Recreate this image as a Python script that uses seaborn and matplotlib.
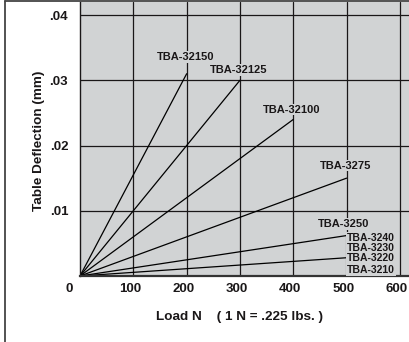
import pandas as pd
import seaborn as sns
import matplotlib.pyplot as plt
import matplotlib.transforms as mtransforms
from matplotlib.lines import Line2D

# lines: model name, load at end of line (N), deflection at end (mm)
models = ["TBA-32150", "TBA-32125", "TBA-32100", "TBA-3275", "TBA-3250", "TBA-3220"]
end_load = [200, 300, 400, 500, 500, 500]
end_defl = [0.031, 0.030, 0.024, 0.015, 0.0062, 0.0028]

# labels for the small models stacked to the right of the 500 N line
group_labels = ["TBA-3240", "TBA-3230", "TBA-3220", "TBA-3210"]
group_defl = [0.0059, 0.0043, 0.0027, 0.0009]

x_ticks = [100, 200, 300, 400, 500, 600]
y_ticks = [0.01, 0.02, 0.03, 0.04]
y_tick_labels = [".01", ".02", ".03", ".04"]

PANEL = "#d1d3d4"
INK = "#1a1718"


def main():
    sns.set_style("white")
    plt.rcParams["font.family"] = ["Liberation Sans", "DejaVu Sans"]
    plt.rcParams["font.weight"] = "bold"

    rows = []
    for m, x, y in zip(models, end_load, end_defl):
        rows.append({"model": m, "load": 0, "defl": 0.0})
        rows.append({"model": m, "load": x, "defl": y})
    df = pd.DataFrame(rows)

    fig = plt.figure(figsize=(4.09, 3.42), dpi=100)
    ax = fig.add_axes([80 / 409, 66 / 342, 329 / 409, 274 / 342])
    ax.set_facecolor(PANEL)

    sns.lineplot(data=df, x="load", y="defl", units="model", estimator=None,
                 color="black", lw=0.9, legend=False, ax=ax)

    ax.set_xlim(0, 617)
    ax.set_ylim(0, 0.042)
    ax.set_xticks(x_ticks)
    ax.set_xticklabels([str(t) for t in x_ticks])
    ax.set_yticks(y_ticks)
    ax.set_yticklabels(y_tick_labels)
    ax.tick_params(length=0, labelsize=9.5, colors=INK)
    ax.tick_params(axis="x", pad=5)
    ax.tick_params(axis="y", pad=8.5)
    ax.grid(True, color=INK, lw=0.9)
    ax.set_axisbelow(True)

    # x tick labels sit a little left of their grid lines in the original
    shift = mtransforms.ScaledTranslation(-3 / 100, 0, fig.dpi_scale_trans)
    for lab in ax.get_xticklabels():
        lab.set_transform(lab.get_transform() + shift)

    for s in ["top", "right"]:
        ax.spines[s].set_visible(False)
    ax.spines["left"].set_color(INK)
    ax.spines["left"].set_linewidth(1.0)
    ax.spines["bottom"].set_color("#333333")
    ax.spines["bottom"].set_linewidth(1.6)

    # origin label
    ax.annotate("0", xy=(0, 0), xytext=(-8, -5), textcoords="offset points",
                ha="center", va="top", fontsize=9.5, color=INK, fontweight="bold")

    box = dict(facecolor=PANEL, edgecolor="none", pad=0.6)
    label_dy = [12, 7.5, 7, 9]
    for m, x, y, dy in zip(models[:4], end_load, end_defl, label_dy):
        ax.annotate(m, xy=(x, y), xytext=(-1, dy), textcoords="offset points",
                    ha="center", va="center", fontsize=8, fontweight="bold",
                    color=INK, bbox=box, zorder=4)
    ax.annotate(models[4], xy=(end_load[4], end_defl[4]), xytext=(-2.5, 8.5),
                textcoords="offset points", ha="center", va="center",
                fontsize=8, fontweight="bold", color=INK, bbox=box, zorder=4)

    # bracket for the small models
    ax.vlines(500, 0, 0.0064, color=INK, lw=1.5, zorder=3)
    for lab, y in zip(group_labels, group_defl):
        ax.text(501, y, lab, ha="left", va="center", fontsize=7.5,
                fontweight="bold", color=INK, bbox=box, zorder=4)

    ax.set_xlabel("Load N    ( 1 N = .225 lbs. )", fontsize=9.7, fontweight="bold",
                  color=INK)
    ax.xaxis.set_label_coords(0.486, -0.128)
    ax.set_ylabel("Table Deflection (mm)", fontsize=9.7, fontweight="bold", color=INK)
    ax.yaxis.set_label_coords(-0.106, 0.493)

    # outer frame lines
    fig.add_artist(Line2D([5 / 409, 5 / 409], [0, 1 - 1 / 342],
                          transform=fig.transFigure, color="#444444", lw=1.3))
    fig.add_artist(Line2D([5 / 409, 1], [1 - 1 / 342, 1 - 1 / 342],
                          transform=fig.transFigure, color="#444444", lw=1.3))

    fig.savefig("out.png", dpi=100)


if __name__ == "__main__":
    main()
